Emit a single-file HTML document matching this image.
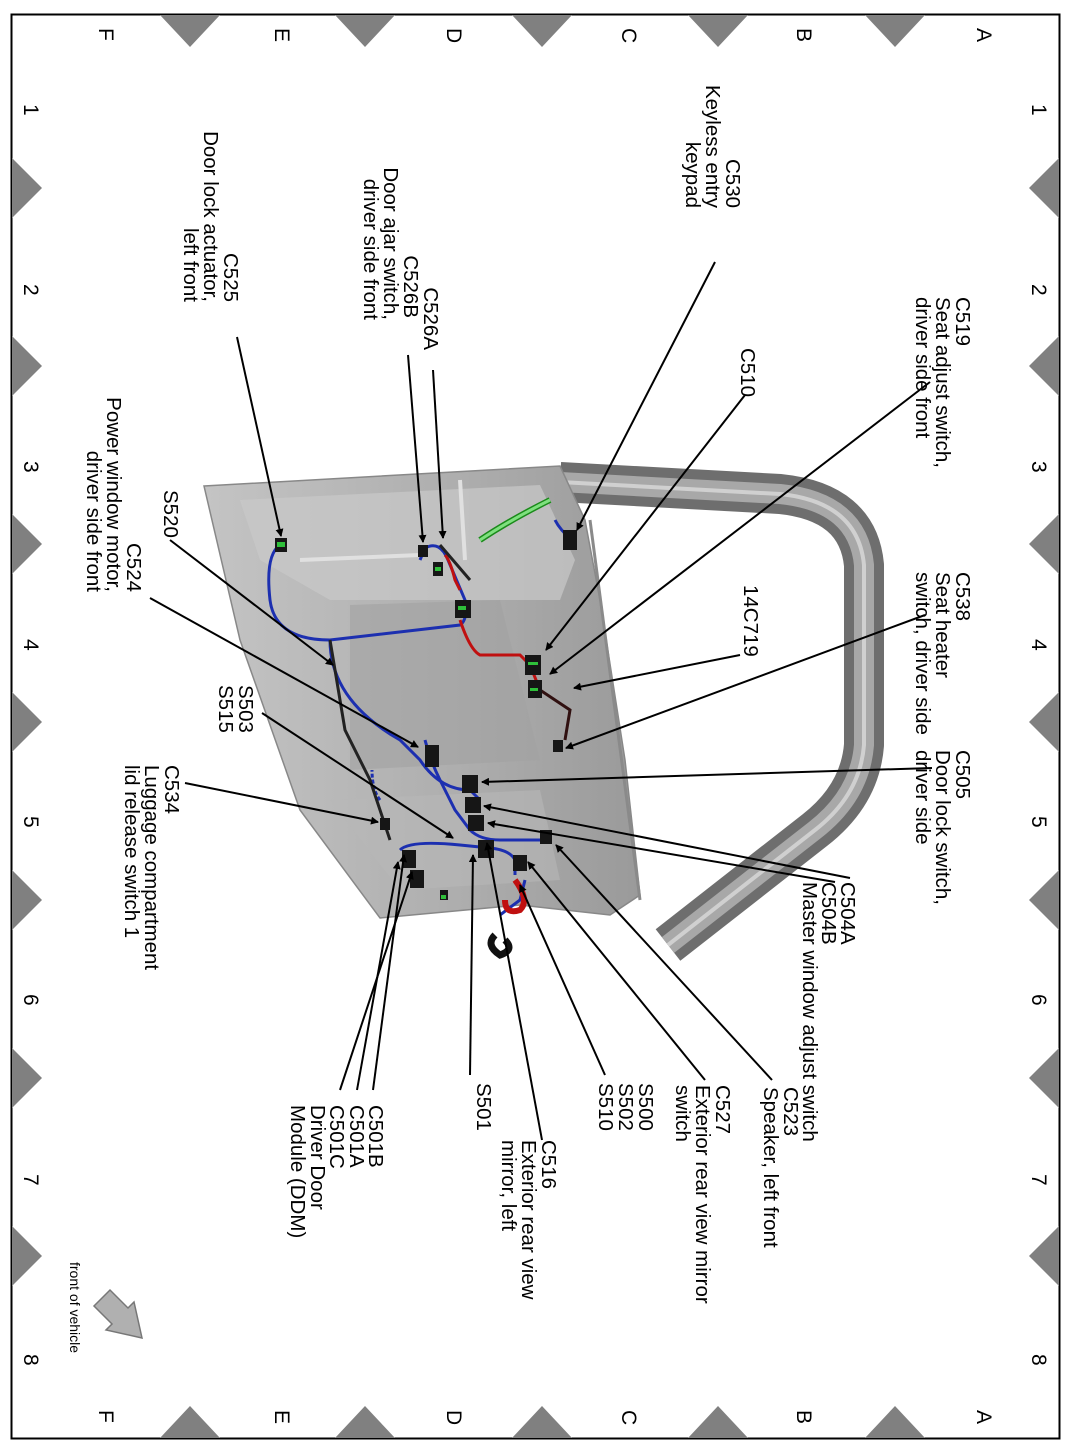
<!DOCTYPE html>
<html><head><meta charset="utf-8"><style>
html,body{margin:0;padding:0;background:#fff}
svg{display:block}
text{font-family:"Liberation Sans",Arial,sans-serif;fill:#000}
</style></head><body>
<svg width="1072" height="1450" viewBox="0 0 1072 1450" xmlns="http://www.w3.org/2000/svg">
<defs>
<marker id="ah" markerWidth="8" markerHeight="8" refX="7" refY="4" orient="auto" markerUnits="userSpaceOnUse">
<path d="M0,0 L8,4 L0,8 Z" fill="#000"/></marker>
<linearGradient id="pg" x1="0" y1="0" x2="1" y2="0"><stop offset="0" stop-color="#c4c4c4"/><stop offset="0.6" stop-color="#adadad"/><stop offset="1" stop-color="#9a9a9a"/></linearGradient>
</defs>
<rect x="11.5" y="14.5" width="1048" height="1424" fill="none" stroke="#000" stroke-width="2"/>
<g fill="#808080">
<path d="M160,15 L220,15 L190,47 Z"/><path d="M335,15 L395,15 L365,47 Z"/><path d="M512,15 L572,15 L542,47 Z"/><path d="M688,15 L748,15 L718,47 Z"/><path d="M865,15 L925,15 L895,47 Z"/>
<path d="M160,1438 L220,1438 L190,1406 Z"/><path d="M335,1438 L395,1438 L365,1406 Z"/><path d="M512,1438 L572,1438 L542,1406 Z"/><path d="M688,1438 L748,1438 L718,1406 Z"/><path d="M865,1438 L925,1438 L895,1406 Z"/>
<path d="M12,158 L12,218 L42,188 Z"/><path d="M12,336 L12,396 L42,366 Z"/><path d="M12,514 L12,574 L42,544 Z"/><path d="M12,692 L12,752 L42,722 Z"/><path d="M12,870 L12,930 L42,900 Z"/><path d="M12,1048 L12,1108 L42,1078 Z"/><path d="M12,1226 L12,1286 L42,1256 Z"/>
<path d="M1059,158 L1059,218 L1029,188 Z"/><path d="M1059,336 L1059,396 L1029,366 Z"/><path d="M1059,514 L1059,574 L1029,544 Z"/><path d="M1059,692 L1059,752 L1029,722 Z"/><path d="M1059,870 L1059,930 L1029,900 Z"/><path d="M1059,1048 L1059,1108 L1029,1078 Z"/><path d="M1059,1226 L1059,1286 L1029,1256 Z"/>
</g>
<g font-size="21">
<text transform="translate(99,28) rotate(90)">F</text><text transform="translate(275,28) rotate(90)">E</text><text transform="translate(447,28) rotate(90)">D</text><text transform="translate(622,28) rotate(90)">C</text><text transform="translate(797,28) rotate(90)">B</text><text transform="translate(977,28) rotate(90)">A</text>
<text transform="translate(99,1410) rotate(90)">F</text><text transform="translate(275,1410) rotate(90)">E</text><text transform="translate(447,1410) rotate(90)">D</text><text transform="translate(622,1410) rotate(90)">C</text><text transform="translate(797,1410) rotate(90)">B</text><text transform="translate(977,1410) rotate(90)">A</text>
<text transform="translate(24,104) rotate(90)">1</text><text transform="translate(24,284) rotate(90)">2</text><text transform="translate(24,461) rotate(90)">3</text><text transform="translate(24,639) rotate(90)">4</text><text transform="translate(24,816) rotate(90)">5</text><text transform="translate(24,994) rotate(90)">6</text><text transform="translate(24,1174) rotate(90)">7</text><text transform="translate(24,1354) rotate(90)">8</text>
<text transform="translate(1032,104) rotate(90)">1</text><text transform="translate(1032,284) rotate(90)">2</text><text transform="translate(1032,461) rotate(90)">3</text><text transform="translate(1032,639) rotate(90)">4</text><text transform="translate(1032,816) rotate(90)">5</text><text transform="translate(1032,994) rotate(90)">6</text><text transform="translate(1032,1174) rotate(90)">7</text><text transform="translate(1032,1354) rotate(90)">8</text>
</g>

<path d="M560,482 L780,494 Q858,502 864,565 L864,745 Q860,795 815,830 L668,945" fill="none" stroke="#6e6e6e" stroke-width="40" stroke-linejoin="round"/>
<path d="M560,482 L780,494 Q858,502 864,565 L864,745 Q860,795 815,830 L668,945" fill="none" stroke="#a8a8a8" stroke-width="20" stroke-linejoin="round"/>
<path d="M560,482 L780,494 Q858,502 864,565 L864,745 Q860,795 815,830 L668,945" fill="none" stroke="#d0d0d0" stroke-width="4" stroke-linejoin="round"/>
<path d="M204,486 L560,466 L585,520 L600,600 L625,760 L640,895 L610,915 L520,905 L380,918 L300,810 L240,640 Z" fill="url(#pg)" stroke="#888" stroke-width="1.5"/>
<path d="M240,500 L540,485 L575,560 L560,600 L330,600 L260,560 Z" fill="#c9c9c9" opacity="0.7"/>
<path d="M350,605 L500,600 L540,760 L350,770 Z" fill="#a2a2a2" opacity="0.6"/>
<path d="M330,800 L540,790 L560,880 L400,890 Z" fill="#b8b8b8" opacity="0.6"/>
<path d="M590,520 L640,900" stroke="#8a8a8a" stroke-width="3"/>
<path d="M460,480 L465,560 M300,560 L420,555" stroke="#e0e0e0" stroke-width="4" fill="none"/>

<g fill="none" stroke-width="3">
<path d="M280,545 Q265,555 270,600 Q275,640 330,640 L460,625 Q468,620 465,600 L448,560 Q440,540 425,548 L420,560" stroke="#1c2fb0"/>
<path d="M330,640 Q330,700 400,740 L420,760 Q440,790 470,790 L480,800" stroke="#1c2fb0"/>
<path d="M425,740 Q430,760 440,780 L455,810 L470,830 Q480,840 500,840 L540,840" stroke="#1c2fb0"/>
<path d="M400,850 Q410,840 460,845 L490,848 Q510,850 515,860 L515,875 M500,915 L520,900 L525,880" stroke="#1c2fb0"/>
<path d="M555,520 Q560,530 572,540" stroke="#1c2fb0"/>
<path d="M380,800 Q372,790 372,770" stroke="#1c2fb0" stroke-dasharray="4,2"/>
<path d="M460,620 Q470,650 480,655 L520,655 L530,665 L540,690" stroke="#c01010"/>
<path d="M460,590 L455,580 Q450,560 445,555" stroke="#c01010"/>
<path d="M540,690 L555,700 L570,710 L565,740" stroke="#301010"/>
<path d="M330,640 L345,730 L370,780 L390,840" stroke="#222"/>
<path d="M440,545 L470,580" stroke="#222"/>
<path d="M480,540 Q510,520 550,500" stroke="#1a8a1a" stroke-width="6"/>
<path d="M480,540 Q510,520 550,500" stroke="#7ee07e" stroke-width="3"/>
<path d="M515,880 Q530,900 520,910 Q505,915 505,900" stroke="#c01010" stroke-width="6"/>
<path d="M495,935 Q485,945 500,955 Q515,950 505,940" stroke="#111" stroke-width="7"/>
</g>
<g fill="#161616">
<rect x="275" y="538" width="12" height="14"/><rect x="418" y="545" width="10" height="12"/><rect x="433" y="562" width="10" height="14"/>
<rect x="455" y="600" width="16" height="18"/><rect x="563" y="530" width="14" height="20"/>
<rect x="525" y="655" width="16" height="20"/><rect x="528" y="680" width="14" height="18"/><rect x="553" y="740" width="10" height="12"/>
<rect x="425" y="745" width="14" height="22"/><rect x="462" y="775" width="16" height="18"/><rect x="465" y="797" width="16" height="16"/><rect x="468" y="815" width="16" height="16"/>
<rect x="540" y="830" width="12" height="14"/><rect x="478" y="840" width="16" height="18"/><rect x="513" y="855" width="14" height="16"/>
<rect x="380" y="818" width="10" height="12"/><rect x="402" y="850" width="14" height="18"/><rect x="410" y="870" width="14" height="18"/><rect x="440" y="890" width="8" height="10"/>
</g>
<g fill="#2fbf3a">
<rect x="277" y="542" width="8" height="5"/><rect x="528" y="662" width="10" height="3"/><rect x="530" y="688" width="8" height="3"/><rect x="458" y="606" width="8" height="4"/><rect x="435" y="567" width="6" height="4"/><rect x="441" y="895" width="5" height="4"/>
</g>

<g stroke="#000" stroke-width="2" fill="none" marker-end="url(#ah)">
<line x1="715" y1="262" x2="577" y2="530"/>
<line x1="930" y1="382" x2="550" y2="674"/>
<line x1="745" y1="395" x2="546" y2="650"/>
<line x1="925" y1="615" x2="566" y2="748"/>
<line x1="740" y1="655" x2="574" y2="688"/>
<line x1="932" y1="768" x2="482" y2="782"/>
<line x1="850" y1="878" x2="484" y2="806"/>
<line x1="835" y1="882" x2="488" y2="823"/>
<line x1="772" y1="1080" x2="556" y2="845"/>
<line x1="705" y1="1080" x2="528" y2="862"/>
<line x1="605" y1="1075" x2="520" y2="885"/>
<line x1="470" y1="1075" x2="473" y2="855"/>
<line x1="542" y1="1140" x2="487" y2="843"/>
<line x1="373" y1="1090" x2="404" y2="855"/>
<line x1="357" y1="1090" x2="398" y2="862"/>
<line x1="340" y1="1090" x2="412" y2="872"/>
<line x1="185" y1="783" x2="378" y2="822"/>
<line x1="150" y1="598" x2="418" y2="747"/>
<line x1="262" y1="713" x2="453" y2="838"/>
<line x1="170" y1="540" x2="333" y2="665"/>
<line x1="237" y1="337" x2="281" y2="536"/>
<line x1="433" y1="370" x2="443" y2="538"/>
<line x1="408" y1="355" x2="423" y2="542"/>
</g>

<g font-size="20.5">
<g text-anchor="end"><text transform="translate(726,208) rotate(90)">C530</text><text transform="translate(706,208) rotate(90)">Keyless entry</text><text transform="translate(686,208) rotate(90)">keypad</text></g>
<text transform="translate(956,297) rotate(90)">C519</text><text transform="translate(936,297) rotate(90)">Seat adjust switch,</text><text transform="translate(916,297) rotate(90)">driver side front</text>
<text transform="translate(741,348) rotate(90)">C510</text>
<text transform="translate(956,572) rotate(90)">C538</text><text transform="translate(936,572) rotate(90)">Seat heater</text><text transform="translate(916,572) rotate(90)">switch, driver side</text>
<text transform="translate(744,585) rotate(90)">14C719</text>
<text transform="translate(956,750) rotate(90)">C505</text><text transform="translate(936,750) rotate(90)">Door lock switch,</text><text transform="translate(916,750) rotate(90)">driver side</text>
<text transform="translate(841,882) rotate(90)">C504A</text><text transform="translate(822,882) rotate(90)">C504B</text><text transform="translate(803,882) rotate(90)">Master window adjust switch</text>
<text transform="translate(784,1087) rotate(90)">C523</text><text transform="translate(764,1087) rotate(90)">Speaker, left front</text>
<text transform="translate(716,1085) rotate(90)">C527</text><text transform="translate(696,1085) rotate(90)">Exterior rear view mirror</text><text transform="translate(676,1085) rotate(90)">switch</text>
<text transform="translate(639,1083) rotate(90)">S500</text><text transform="translate(619,1083) rotate(90)">S502</text><text transform="translate(599,1083) rotate(90)">S510</text>
<text transform="translate(477,1083) rotate(90)">S501</text>
<text transform="translate(542,1140) rotate(90)">C516</text><text transform="translate(522,1140) rotate(90)">Exterior rear view</text><text transform="translate(502,1140) rotate(90)">mirror, left</text>
<text transform="translate(369,1105) rotate(90)">C501B</text><text transform="translate(350,1105) rotate(90)">C501A</text><text transform="translate(330,1105) rotate(90)">C501C</text><text transform="translate(311,1105) rotate(90)">Driver Door</text><text transform="translate(291,1105) rotate(90)">Module (DDM)</text>
<text transform="translate(165,765) rotate(90)">C534</text><text transform="translate(145,765) rotate(90)">Luggage compartment</text><text transform="translate(125,765) rotate(90)">lid release switch 1</text>
<g text-anchor="end"><text transform="translate(127,592) rotate(90)">C524</text><text transform="translate(107,592) rotate(90)">Power window motor,</text><text transform="translate(87,592) rotate(90)">driver side front</text></g>
<text transform="translate(239,685) rotate(90)">S503</text><text transform="translate(219,685) rotate(90)">S515</text>
<text transform="translate(164,490) rotate(90)">S520</text>
<g text-anchor="end"><text transform="translate(224,302) rotate(90)">C525</text><text transform="translate(204,302) rotate(90)">Door lock actuator,</text><text transform="translate(184,302) rotate(90)">left front</text></g>
<g text-anchor="end"><text transform="translate(424,350) rotate(90)">C526A</text><text transform="translate(404,318) rotate(90)">C526B</text><text transform="translate(384,320) rotate(90)">Door ajar switch,</text><text transform="translate(364,320) rotate(90)">driver side front</text></g>
<text font-size="14" transform="translate(70,1262) rotate(90)">front of vehicle</text>
</g>
<path d="M100,1300 L110,1290 L128,1308 L134,1302 L142,1338 L106,1330 L112,1324 L94,1306 Z" fill="#b0b0b0" stroke="#777" stroke-width="1.5"/>
</svg>
</body></html>
